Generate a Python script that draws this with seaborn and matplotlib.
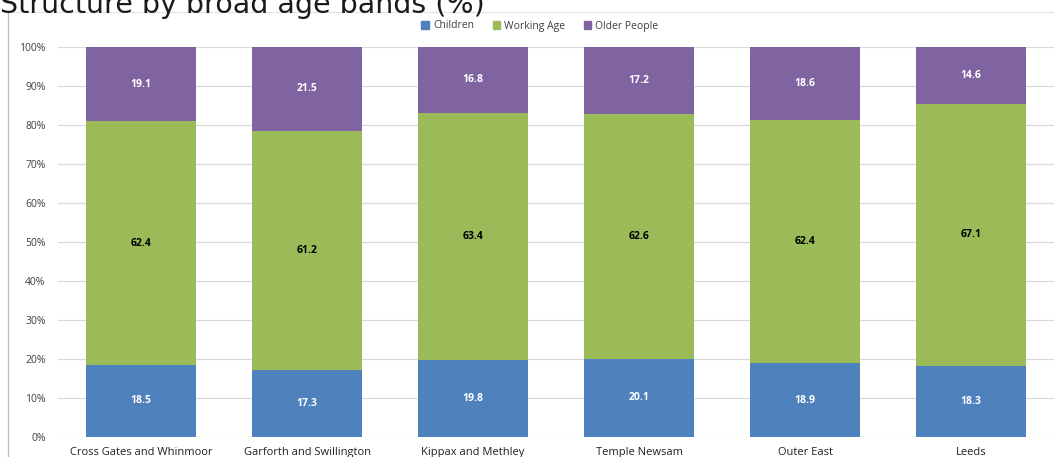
import matplotlib
matplotlib.use("Agg")
import matplotlib.pyplot as plt
import seaborn as sns
import numpy as np
import pandas as pd
from matplotlib.patches import Patch

areas = ["Cross Gates and Whinmoor", "Garforth and Swillington", "Kippax and Methley",
         "Temple Newsam", "Outer East", "Leeds"]
children = [18.5, 17.3, 19.8, 20.1, 18.9, 18.3]
working_age = [62.4, 61.2, 63.4, 62.6, 62.4, 67.1]
older_people = [19.1, 21.5, 16.8, 17.2, 18.6, 14.6]
series_names = ["Children", "Working Age", "Older People"]
colors = ["#4F81BD", "#9BBB59", "#8064A2"]
text_colors = ["white", "black", "white"]
ytick_labels = ["0%", "10%", "20%", "30%", "40%", "50%", "60%", "70%", "80%", "90%", "100%"]

sns.set_style("white")
plt.rcParams["font.family"] = ["Open Sans", "DejaVu Sans"]

fig = plt.figure(figsize=(10.54, 4.57), dpi=100)
ax = fig.add_axes([58/1054, 1 - 437/457, 1 - 58/1054, 390/457])

series = [np.array(children), np.array(working_age), np.array(older_people)]
cum = np.cumsum(series, axis=0)
df = pd.DataFrame({"area": areas})
for i in range(3):
    df[f"top{i}"] = cum[i]

# draw top-down so lower segments overlay
for i in [2, 1, 0]:
    sns.barplot(data=df, x="area", y=f"top{i}", color=colors[i], width=0.66,
                saturation=1, ax=ax, zorder=2, linewidth=0)

for i in range(3):
    bottoms = cum[i] - series[i]
    for j, v in enumerate(series[i]):
        ax.text(j, bottoms[j] + v / 2, f"{v:.1f}", ha="center", va="center",
                fontsize=7.5, fontweight="bold", color=text_colors[i], zorder=3)

ax.set_xlim(-0.5, 5.5)
ax.set_ylim(0, 100)
ax.set_yticks(np.arange(0, 101, 10))
ax.set_yticklabels(ytick_labels)
ax.yaxis.grid(True, color="#d9d9d9", linewidth=0.9, zorder=0)
ax.set_axisbelow(True)
for s in ax.spines.values():
    s.set_visible(False)
ax.set_xlabel("")
ax.set_ylabel("")
ax.tick_params(axis="y", length=0, pad=9, labelsize=7.5, colors="#404040")
ax.tick_params(axis="x", length=0, pad=7, labelsize=8, colors="#202020")

handles = [Patch(color=c, label=n) for c, n in zip(colors, series_names)]
fig.legend(handles=handles, loc="center", bbox_to_anchor=(540/1054, 1 - 26/457),
           ncol=3, frameon=False, fontsize=7.5, handlelength=0.7, handleheight=0.7,
           columnspacing=1.8, handletextpad=0.4, labelcolor="#404040")

# chart frame lines (left and top)
fig.add_artist(plt.Line2D([8/1054, 8/1054], [0, 1 - 12/457], color="#bfbfbf", lw=1))
fig.add_artist(plt.Line2D([8/1054, 1], [1 - 12/457, 1 - 12/457], color="#e6e6e6", lw=1))

fig.text(0, 1 - 13/457, "Structure by broad age bands (%)", fontsize=20.5,
         family="DejaVu Sans", ha="left", va="baseline", color="#1a1a1a")

fig.savefig("out.png", dpi=100, facecolor="white")
